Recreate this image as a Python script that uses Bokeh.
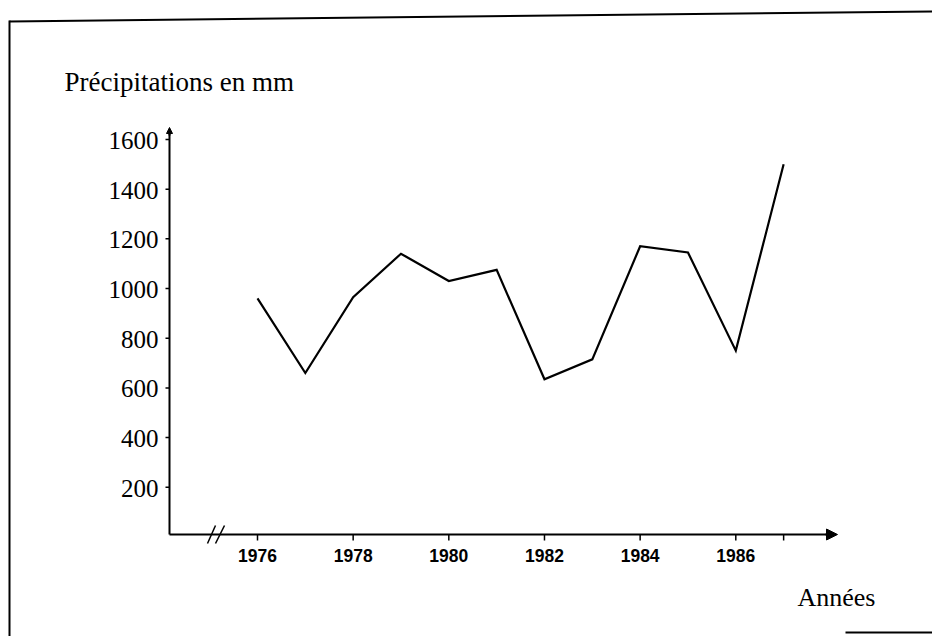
from bokeh.plotting import figure
from bokeh.models import Range1d, Label, Arrow, NormalHead
from bokeh.core.properties import value
from bokeh.embed import file_html
from bokeh.resources import INLINE

# ---- data ----
years = [1976, 1977, 1978, 1979, 1980, 1981, 1982, 1983, 1984, 1985, 1986, 1987]
precip = [960, 660, 965, 1140, 1030, 1075, 635, 715, 1170, 1145, 750, 1500]
x_ticks = [1976, 1978, 1980, 1982, 1984, 1986, 1987]
x_tick_labels = ["1976", "1978", "1980", "1982", "1984", "1986", ""]
y_ticks = [200, 400, 600, 800, 1000, 1200, 1400, 1600]
y_tick_labels = [str(v) for v in y_ticks]
y_title = "Précipitations en mm"
x_title = "Années"

# ---- layout (pixels) ----
W, H = 932, 636
XPX = 47.83        # pixels per year
YPX = 0.24847      # pixels per mm
X_REF, X_REF_PX = 1976, 257
Y_REF, Y_REF_PX = 10, 534   # axis base value and its pixel row
x_lo = X_REF - X_REF_PX / XPX
x_hi = X_REF + (W - X_REF_PX) / XPX
y_lo = Y_REF - (H - Y_REF_PX) / YPX
y_hi = Y_REF + Y_REF_PX / YPX

def dx(px):
    return px / XPX

def dy(px):
    return px / YPX

ax_x = X_REF - dx(X_REF_PX - 169)     # position of the vertical axis
ax_y = Y_REF                          # position of the horizontal axis
x_tip = X_REF + dx(837 - X_REF_PX)    # end of horizontal axis arrow
y_tip = Y_REF + dy(Y_REF_PX - 127)    # end of vertical axis arrow

p = figure(width=W, height=H, output_backend="svg", toolbar_location=None,
           x_range=Range1d(x_lo, x_hi), y_range=Range1d(y_lo, y_hi),
           x_axis_type=None, y_axis_type=None, min_border=0)
p.grid.visible = False
p.outline_line_color = None
p.background_fill_color = "white"
p.border_fill_color = "white"

# axes lines
p.segment(x0=[ax_x, ax_x], y0=[ax_y, ax_y], x1=[x_tip - dx(6), ax_x], y1=[ax_y, y_tip - dy(4)],
          line_color="black", line_width=2)
p.add_layout(Arrow(end=NormalHead(size=11, fill_color="black", line_color="black"),
                   x_start=x_tip - dx(12), y_start=ax_y, x_end=x_tip, y_end=ax_y,
                   line_color="black", line_width=2))
p.add_layout(Arrow(end=NormalHead(size=6, fill_color="black", line_color="black"),
                   x_start=ax_x, y_start=y_tip - dy(8), x_end=ax_x, y_end=y_tip,
                   line_color="black", line_width=2))

# x ticks and labels
p.segment(x0=x_ticks, y0=[ax_y] * len(x_ticks), x1=x_ticks,
          y1=[ax_y - dy(6)] * len(x_ticks), line_color="black", line_width=1.5)
p.text(x=x_ticks, y=[ax_y] * len(x_ticks), text=x_tick_labels,
       text_font=value("Liberation Sans"), text_font_style="bold",
       text_font_size="17.5px", text_color="black",
       text_align="center", text_baseline="top", y_offset=14)

# y ticks and labels
p.segment(x0=[ax_x] * len(y_ticks), y0=y_ticks, x1=[ax_x - dx(4)] * len(y_ticks),
          y1=y_ticks, line_color="black", line_width=1.5)
p.text(x=[ax_x] * len(y_ticks), y=y_ticks, text=y_tick_labels,
       text_font=value("Liberation Serif"), text_font_size="25px",
       text_color="black", text_align="right", text_baseline="middle",
       x_offset=-11, y_offset=1)

# axis break "//"
brk = ax_x + dx(38)
p.segment(x0=[brk, brk + dx(8)], y0=[ax_y - dy(9)] * 2,
          x1=[brk + dx(8), brk + dx(17)], y1=[ax_y + dy(9)] * 2,
          line_color="black", line_width=1.5)

# data line
p.line(years, precip, line_color="black", line_width=2.2, line_join="miter")

# titles
p.add_layout(Label(x=64, y=H - 81, x_units="screen", y_units="screen",
                   text=y_title, text_font="Liberation Serif",
                   text_font_size="27px", text_color="black",
                   text_baseline="alphabetic", text_align="left"))
p.add_layout(Label(x=797, y=H - 597, x_units="screen", y_units="screen",
                   text=x_title, text_font="Liberation Serif",
                   text_font_size="26px", text_color="black",
                   text_baseline="alphabetic", text_align="left"))

# scanned frame of the figure
for xs, ys, xe, ye in [(9, H - 21, W, H - 11), (9, H - 20, 9, 0), (845, 4, W, 4)]:
    p.add_layout(Arrow(end=None, x_start=xs, y_start=ys, x_end=xe, y_end=ye,
                       start_units="screen", end_units="screen",
                       line_color="black", line_width=2))

open("out.html", "w").write(file_html(p, INLINE))
